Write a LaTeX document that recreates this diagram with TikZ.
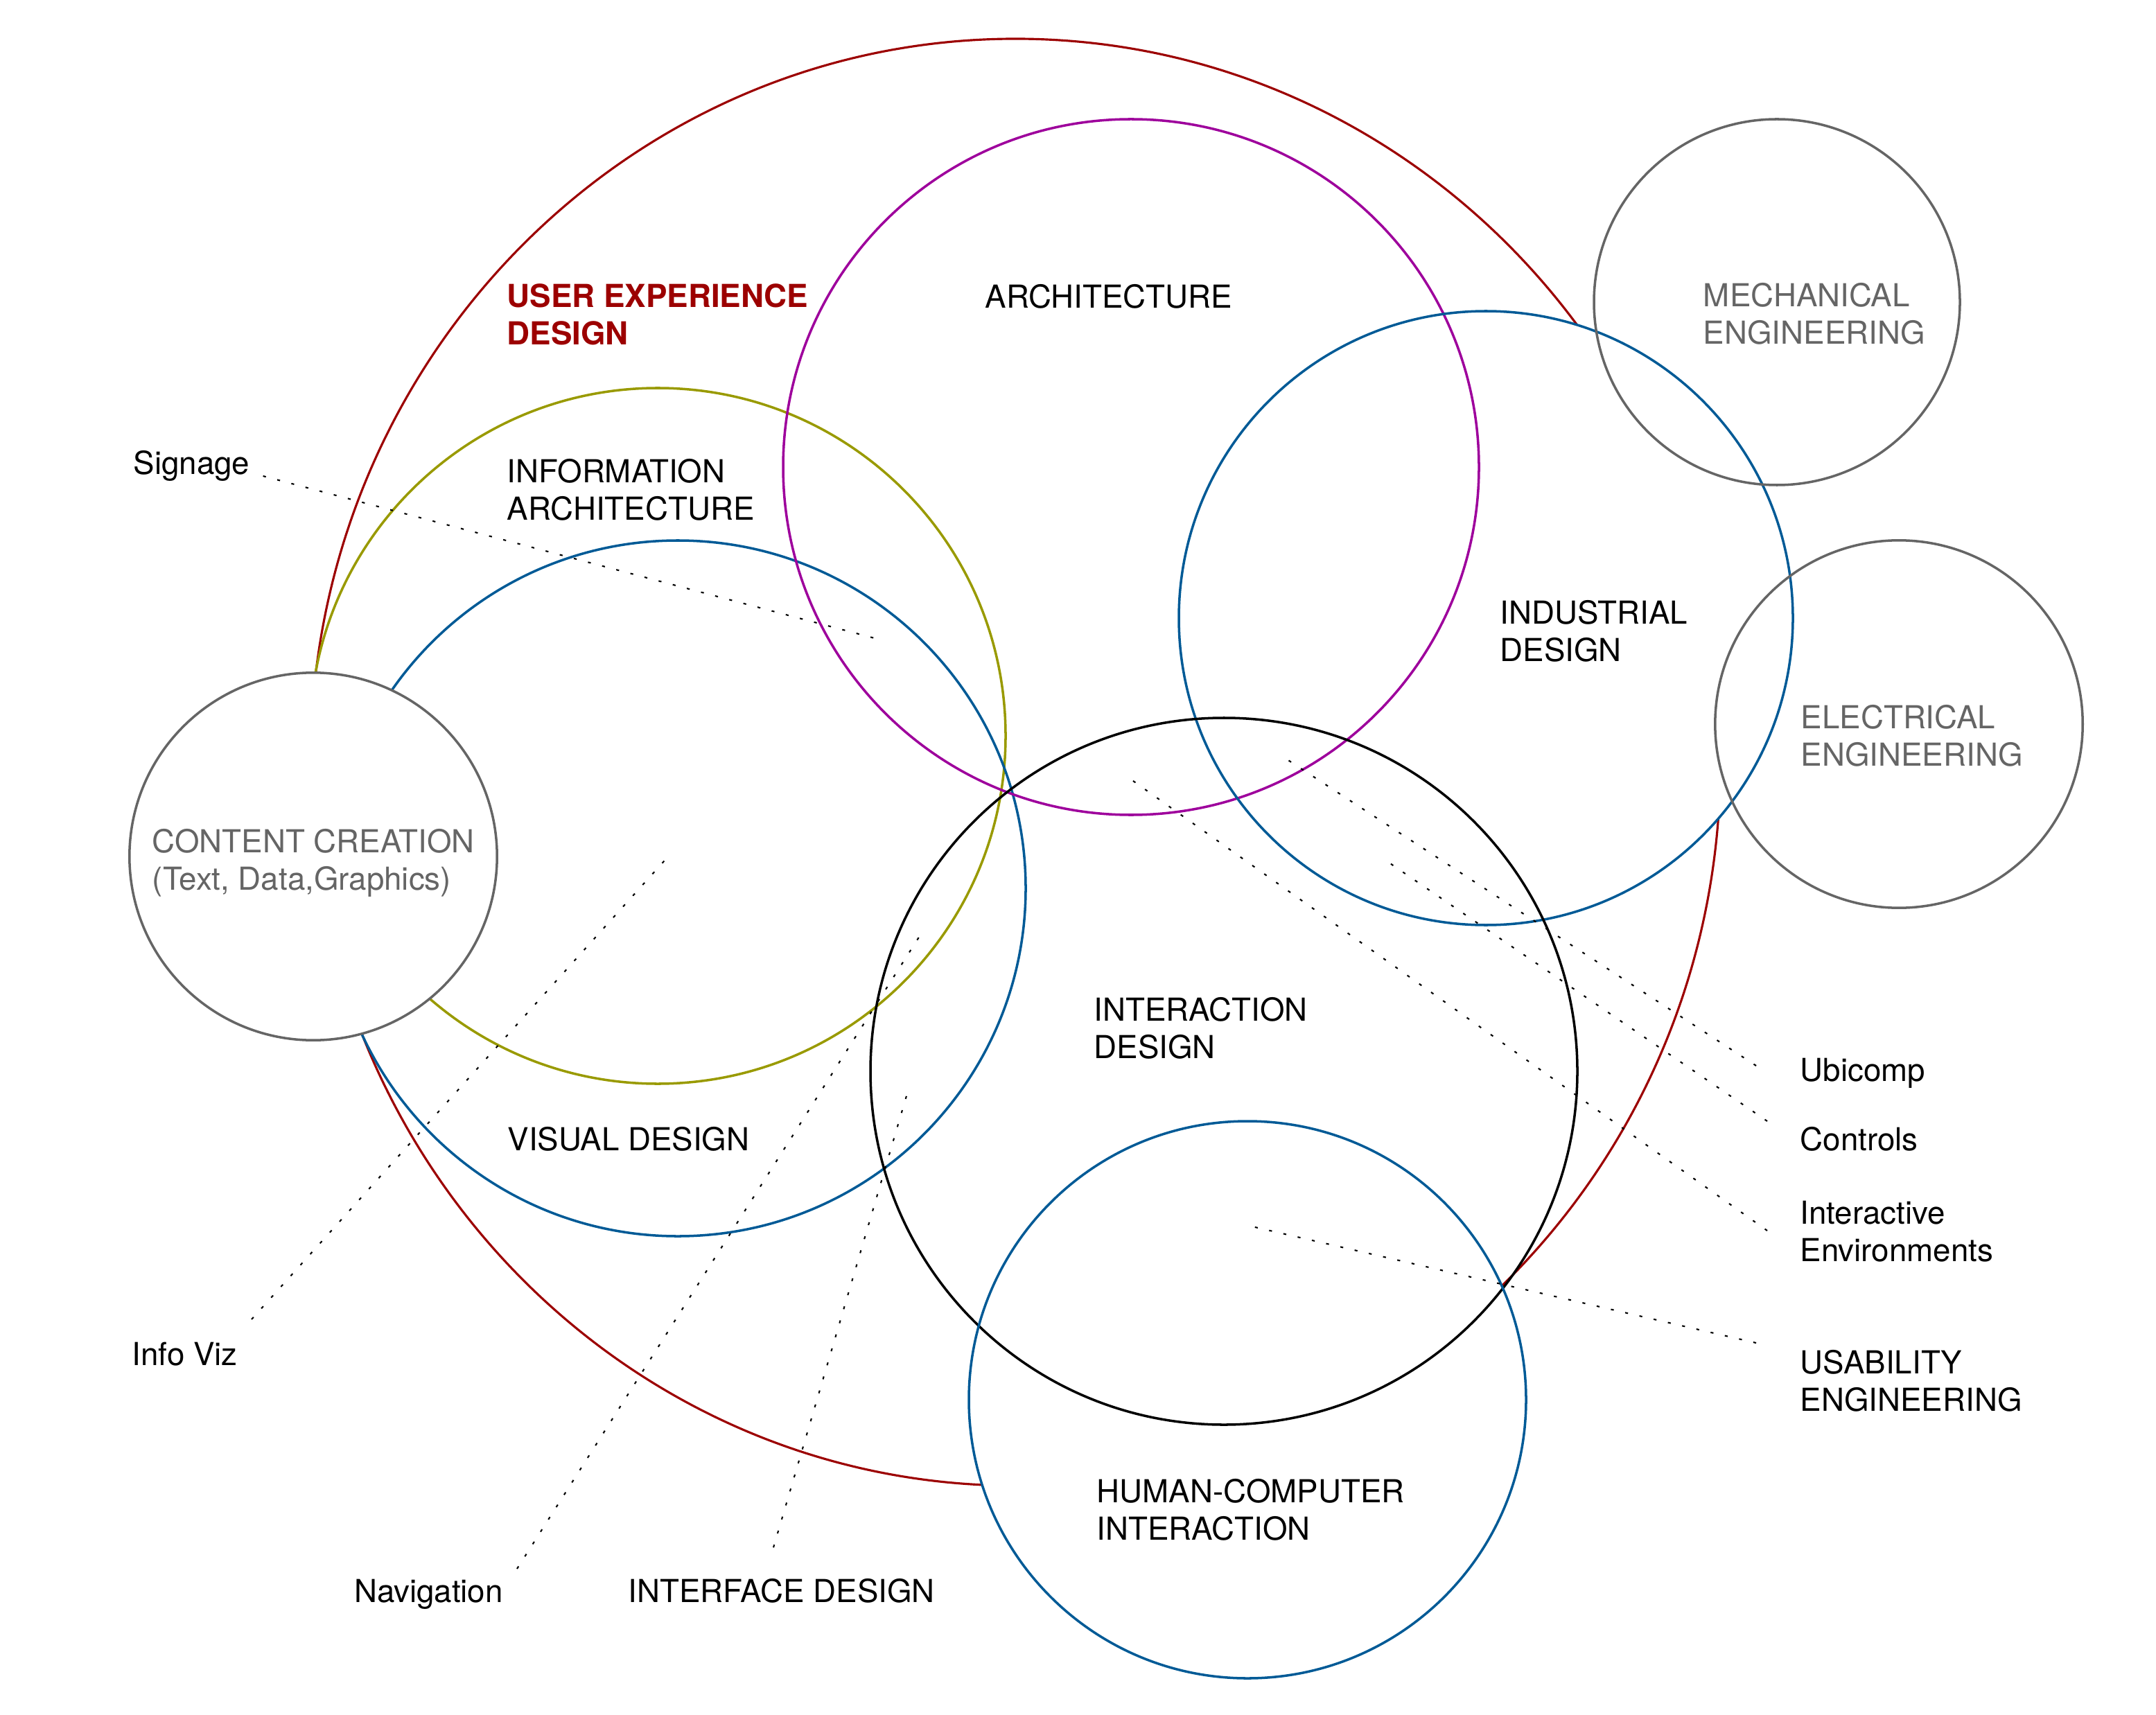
\documentclass[tikz,border=0pt]{standalone}
\usepackage{fontspec}
\setmainfont{TeX Gyre Heros}
\usepackage{tikz}
\definecolor{VennRed}{HTML}{9C0000}
\definecolor{VennOlive}{HTML}{999A00}
\definecolor{VennBlue}{HTML}{005A96}
\definecolor{VennPurple}{HTML}{9E009C}
\definecolor{VennGrey}{HTML}{656565}

\begin{document}
\begin{tikzpicture}[x=0.2mm,y=-0.2mm,
    ring/.style={line width=1pt},
    tag/.style={anchor=north west,align=left,inner sep=0pt,font=\fontsize{13}{15.4}\selectfont},
    leader/.style={line width=0.6pt,dash pattern=on 1.2pt off 4.8pt}]
    \useasboundingbox (0,0) rectangle (1555.5,1237.5);
    \foreach \x/\y/\name in {732.6/550/UX,226/618/CC,474.5/531/IA,489/641/VD,816/337/AR,
      1072/446/ID,1282/218/ME,1370/522.5/EE,883/773/IX,900/1010/HCI} {
     \coordinate (\name) at (\x,\y);
    }
    \draw[ring,VennRed,line width=0.9pt] (UX) ellipse [x radius=508.6,y radius=522];
    \fill[white] (ID) circle (221.5) (HCI) circle (201);
    \draw[ring,VennOlive] (IA) circle (251);
    \draw[ring,VennBlue] (VD) circle (251);
    \draw[ring,VennGrey,fill=white] (CC) circle (132.6);
    \foreach \name/\r/\col in {AR/251/VennPurple,ID/221.5/VennBlue,IX/255/black,
      HCI/201/VennBlue,ME/132/VennGrey,EE/132.6/VennGrey} {
     \draw[ring,\col] (\name) circle (\r);
    }
    % dotted leaders
    \foreach \name/\xa/\ya/\xb/\yb in {signage/189.8/343.5/635.5/461.7,infoviz/181.5/952/483/617,
      navigation/373/1132/666.5/670.7,interface/558/1116.6/656/784,ubicomp/1267/769/924/545,
      controls/1275/809/997.7/619.4,environments/1275/888/814/561,usability/1267/969/899/884} {
     \coordinate (\name-a) at (\xa,\ya);
     \coordinate (\name-b) at (\xb,\yb);
     \draw[leader] (\name-a) -- (\name-b);
    }
    \node[tag,VennRed,font=\fontsize{13}{15.4}\selectfont\bfseries] (ux-text) at (365.5,204.3) {USER EXPERIENCE\\DESIGN};
    \node[tag] (ar-text) at (710.4,204.6) {ARCHITECTURE};
    \node[tag,VennGrey] (me-text) at (1228.6,204) {MECHANICAL\\ENGINEERING};
    \node[tag] (ia-text) at (365.5,331) {INFORMATION\\ARCHITECTURE};
    \node[tag] (signage-text) at (96,325) {Signage};
    \node[tag] (id-text) at (1082,433) {INDUSTRIAL\\DESIGN};
    \node[tag,VennGrey] (ee-text) at (1299,508.5) {ELECTRICAL\\ENGINEERING};
    \node[tag,VennGrey] (cc-text) at (109.6,597.8) {CONTENT CREATION\\(Text, Data,Graphics)};
    \node[tag] (ix-text) at (789,719.4) {INTERACTION\\DESIGN};
    \node[tag] (ubicomp-text) at (1298.5,763.4) {Ubicomp};
    \node[tag] (controls-text) at (1298.5,813) {Controls};
    \node[tag] (vd-text) at (366,813) {VISUAL DESIGN};
    \node[tag] (environments-text) at (1298.5,866) {Interactive\\Environments};
    \node[tag] (infoviz-text) at (95,968) {Info Viz};
    \node[tag] (usability-text) at (1298.5,973.7) {USABILITY\\ENGINEERING};
    \node[tag] (hci-text) at (791,1067) {HUMAN-COMPUTER\\INTERACTION};
    \node[tag] (navigation-text) at (255.3,1139) {Navigation};
    \node[tag] (interface-text) at (453,1139) {INTERFACE DESIGN};
   \end{tikzpicture}
\end{document}
